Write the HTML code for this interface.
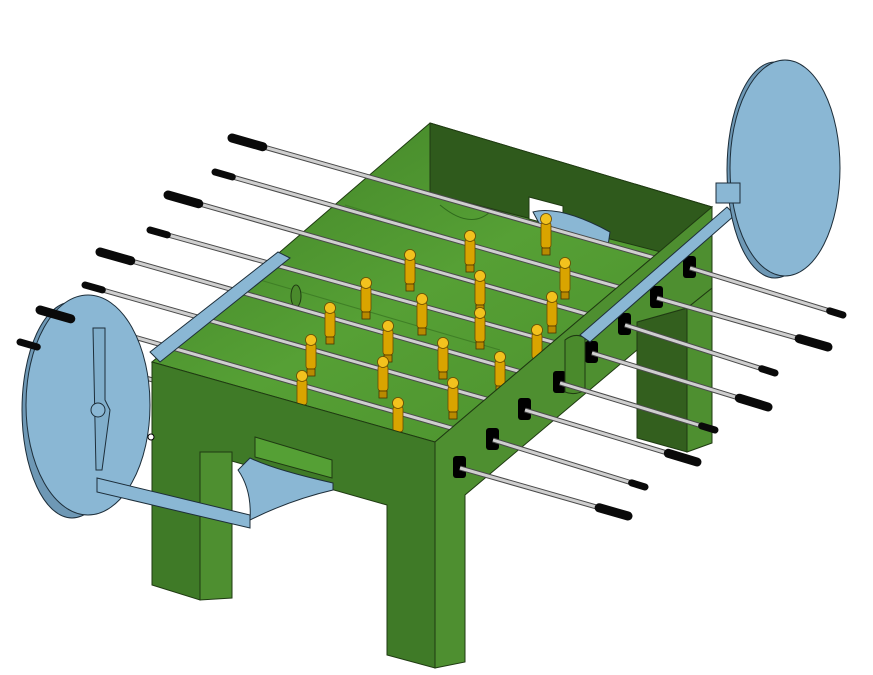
<!DOCTYPE html>
<html><head><meta charset="utf-8"><style>
html,body{margin:0;padding:0;background:#fff;}
svg{display:block}
</style></head><body>
<svg id="s" width="873" height="675" viewBox="0 0 873 675" xmlns="http://www.w3.org/2000/svg">
<defs>
  <linearGradient id="fl" x1="0" y1="0" x2="1" y2="1">
    <stop offset="0" stop-color="#3f7f26"/><stop offset="0.5" stop-color="#56a035"/><stop offset="1" stop-color="#4a8e2c"/>
  </linearGradient>
</defs>
<g id="back">
  <polygon points="637,322 687,308 687,452 637,438" fill="#335f1e" stroke="#1f3a12"/>
  <polygon points="687,308 712,288 712,443 687,452" fill="#4e8f30" stroke="#1f3a12"/>
  <polygon points="430,123 712,207 435,442 152,362" fill="url(#fl)" stroke="#1f3a12"/>
  <path d="M345,205 L575,275 M260,280 L500,350" stroke="#3f7f26" stroke-width="1" fill="none"/>
  <path d="M440,205 Q470,230 490,212" stroke="#2f6a1c" fill="none"/>
  <polygon points="430,123 712,207 700,262 430,193" fill="#2f5a1c" stroke="#1f3a12"/>
  <polygon points="529,197 563,206 563,228 529,219" fill="#fff" stroke="#1f3a12"/>
  <path d="M533,212 Q560,205 610,232 L608,246 Q575,232 540,225 Z" fill="#8ab7d4" stroke="#1d2e3a"/>
  <ellipse cx="296" cy="296" rx="5" ry="11" fill="#4a8a2c" stroke="#1f3a12"/>
</g>
<g id="rods"></g>
<g id="figs"></g>
<g id="front">
  <polygon points="435,442 712,207 712,288 687,308 637,322 637,350 465,495 465,662 435,668" fill="#4e8f30" stroke="#1f3a12"/>
  <polygon points="152,362 435,442 435,668 387,655 387,505 200,452 200,600 152,585" fill="#3f7a27" stroke="#1f3a12"/>
  <line x1="435" y1="442" x2="435" y2="668" stroke="#1f3a12"/>
  <polygon points="200,452 232,452 232,598 200,600" fill="#4e8f30" stroke="#1f3a12"/>
  <polygon points="255,437 332,460 332,478 255,457" fill="#55a035" stroke="#1f3a12"/>
  <path d="M250,458 Q275,470 333,483 L333,490 Q290,500 250,520 Q252,490 238,470 Z" fill="#8ab7d4" stroke="#1d2e3a"/>
  <g id="holes"></g>
  <path d="M565,340 Q575,332 585,338 L585,390 Q575,396 565,392 Z" fill="#4a8a2c" stroke="#1f3a12"/>
  <polygon points="150,352 278,252 290,258 160,362" fill="#8ab7d4" stroke="#1d2e3a"/>
  <polygon points="580,335 727,207 735,215 590,342" fill="#8ab7d4" stroke="#1d2e3a"/>
  <ellipse cx="72" cy="410" rx="50" ry="108" fill="#6e98b5" stroke="#1d2e3a"/>
  <ellipse cx="88" cy="405" rx="62" ry="110" fill="#8ab7d4" stroke="#1d2e3a"/>
  <path d="M93,328 L105,328 L105,400 L110,410 L102,470 L96,470 Z" fill="#80aecb" stroke="#1d2e3a"/>
  <circle cx="98" cy="410" r="7" fill="#8ab7d4" stroke="#1d2e3a"/>
  <polygon points="97,478 250,515 250,528 97,492" fill="#8ab7d4" stroke="#1d2e3a"/>
  <ellipse cx="775" cy="170" rx="48" ry="108" fill="#6e98b5" stroke="#1d2e3a"/>
  <ellipse cx="785" cy="168" rx="55" ry="108" fill="#8ab7d4" stroke="#1d2e3a"/>
  <rect x="716" y="183" width="24" height="20" fill="#8ab7d4" stroke="#1d2e3a"/>
  <circle cx="151" cy="437" r="3" fill="#fff" stroke="#000"/>
</g>
<g id="outrods"></g>
</svg>
<script>
// rod geometry: left handle end, right-wall hole, right end
const rodLeftX=[232,215,168,150,100,85,40,20];
const rodLeftY=[138,172,195,230,252,285,310,342];
const holeX=[690,657,625,592,560,525,493,460];
const holeY=[268,298,325,353,383,410,440,468];
const rodRightX=[843,828,775,768,715,697,645,628];
const rodRightY=[315,347,373,407,430,462,487,516];
// player figure head positions
const figX=[546,470,410,565,480,366,552,422,330,480,537,388,311,443,500,302,383,453,398];
const figY=[219,236,255,263,276,283,297,299,308,313,330,326,340,343,357,376,362,383,403];
const svgNS="http://www.w3.org/2000/svg";
const rods=document.getElementById('rods'), out=document.getElementById('outrods'), figs=document.getElementById('figs'), holes=document.getElementById('holes');
function mk(t,a,p){const e=document.createElementNS(svgNS,t);for(const k in a)e.setAttribute(k,a[k]);p.appendChild(e);return e;}
function rodLine(p,x1,y1,x2,y2){
  const a=mk('line',{x1:x1,y1:y1,x2:x2,y2:y2,stroke:'#4a4a4a',"stroke-width":5},p);
  
  
  const b=mk('line',{x1:x1,y1:y1,x2:x2,y2:y2,stroke:'#cfcfcf',"stroke-width":3},p);
  
  
}
for(let i=0;i<rodLeftX.length;i++){
  const x1=rodLeftX[i],y1=rodLeftY[i],hx=holeX[i],hy=holeY[i],x2=rodRightX[i],y2=rodRightY[i];
  rodLine(rods,x1,y1,hx,hy);
  const hole=mk('rect',{x:hx-7,y:hy-12,width:13,height:22,rx:3,fill:'#000'},holes);
  
  
  rodLine(out,hx,hy,x2,y2);
  let dx=hx-x1,dy=hy-y1,L=Math.hypot(dx,dy),ux=dx/L,uy=dy/L;
  const longL=(i%2===0);
  const h=mk('line',{x1:x1,y1:y1,x2:x1+ux*(longL?32:18),y2:y1+uy*(longL?32:18),stroke:'#0a0a0a',"stroke-width":longL?9:7,"stroke-linecap":"round"},out);
  
  
  dx=x2-hx;dy=y2-hy;L=Math.hypot(dx,dy);ux=dx/L;uy=dy/L;
  const longR=(i%2===1);
  const e=mk('line',{x1:x2-ux*(longR?30:14),y1:y2-uy*(longR?30:14),x2:x2,y2:y2,stroke:'#0a0a0a',"stroke-width":longR?9:7,"stroke-linecap":"round"},out);
  
  
}
for(let i=0;i<figX.length;i++){
  const g=mk('g',{},figs);
  
  
  const x=figX[i],y=figY[i];
  mk('rect',{x:x-5,y:y+3,width:10,height:26,rx:3,fill:'#d9a400',stroke:'#6a4a00',"stroke-width":0.8},g);
  mk('rect',{x:x-4,y:y+29,width:8,height:7,fill:'#b88a00',stroke:'#4a3400',"stroke-width":0.8},g);
  mk('circle',{cx:x,cy:y,r:5.5,fill:'#f2c21e',stroke:'#6a4a00',"stroke-width":0.8},g);
}
</script>
</body></html>
